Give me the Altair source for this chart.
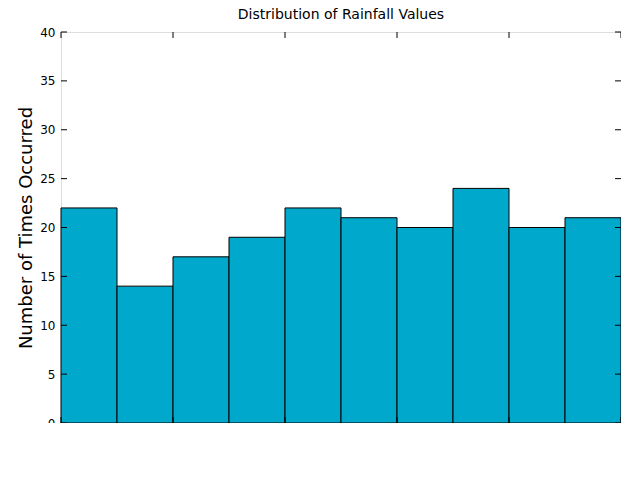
import pandas as pd
import altair as alt

bin_start = [0.0, 0.5, 1.0, 1.5, 2.0, 2.5, 3.0, 3.5, 4.0, 4.5]
counts = [22, 14, 17, 19, 22, 21, 20, 24, 20, 21]
x_ticks = [0, 1, 2, 3, 4, 5]
y_ticks = [0, 5, 10, 15, 20, 25, 30, 35, 40]

df = pd.DataFrame({"start": bin_start, "count": counts})
df["end"] = df["start"] + 0.5

W, H = 560, 391
xs = alt.Scale(domain=[0, 5], nice=False, zero=False)
ys = alt.Scale(domain=[0, 40], nice=False)

bars = alt.Chart(df).mark_bar(color="#00a8cc", stroke="black", strokeWidth=1).encode(
    x=alt.X("start:Q", scale=xs, axis=alt.Axis(values=x_ticks, format="d", title="Centimeters of Rainfall/ Day",
                                               titleFontSize=18, titleFontWeight="normal", labelFontSize=12,
                                               tickSize=0, labelPadding=6, grid=False, domain=False)),
    x2="end:Q",
    y=alt.Y("count:Q", scale=ys, axis=alt.Axis(values=y_ticks, format="d", title="Number of Times Occurred",
                                               titleFontSize=18, titleFontWeight="normal", labelFontSize=12,
                                               tickSize=0, labelPadding=6, grid=False, domain=False)),
    y2=alt.datum(0),
)

xt = pd.DataFrame({"v": x_ticks})
yt = pd.DataFrame({"v": y_ticks})
xb = alt.Chart(xt).mark_rule(color="black").encode(x=alt.X("v:Q", scale=xs), y=alt.value(H), y2=alt.value(H - 6))
xtop = alt.Chart(xt).mark_rule(color="black").encode(x=alt.X("v:Q", scale=xs), y=alt.value(0), y2=alt.value(6))
yl = alt.Chart(yt).mark_rule(color="black").encode(y=alt.Y("v:Q", scale=ys), x=alt.value(0), x2=alt.value(6))
yr = alt.Chart(yt).mark_rule(color="black").encode(y=alt.Y("v:Q", scale=ys), x=alt.value(W), x2=alt.value(W - 6))

chart = (bars + xb + xtop + yl + yr).properties(
    width=W, height=H,
    title=alt.Title("Distribution of Rainfall Values", fontSize=14, fontWeight="normal", offset=4),
    autosize=alt.AutoSizeParams(type="none"),
    padding={"left": 53, "top": 24, "right": 0, "bottom": 0},
).configure_view(stroke="black", strokeWidth=1).configure(font="DejaVu Sans")

chart.save("out.html", embed_options={"renderer": "svg", "actions": False})
